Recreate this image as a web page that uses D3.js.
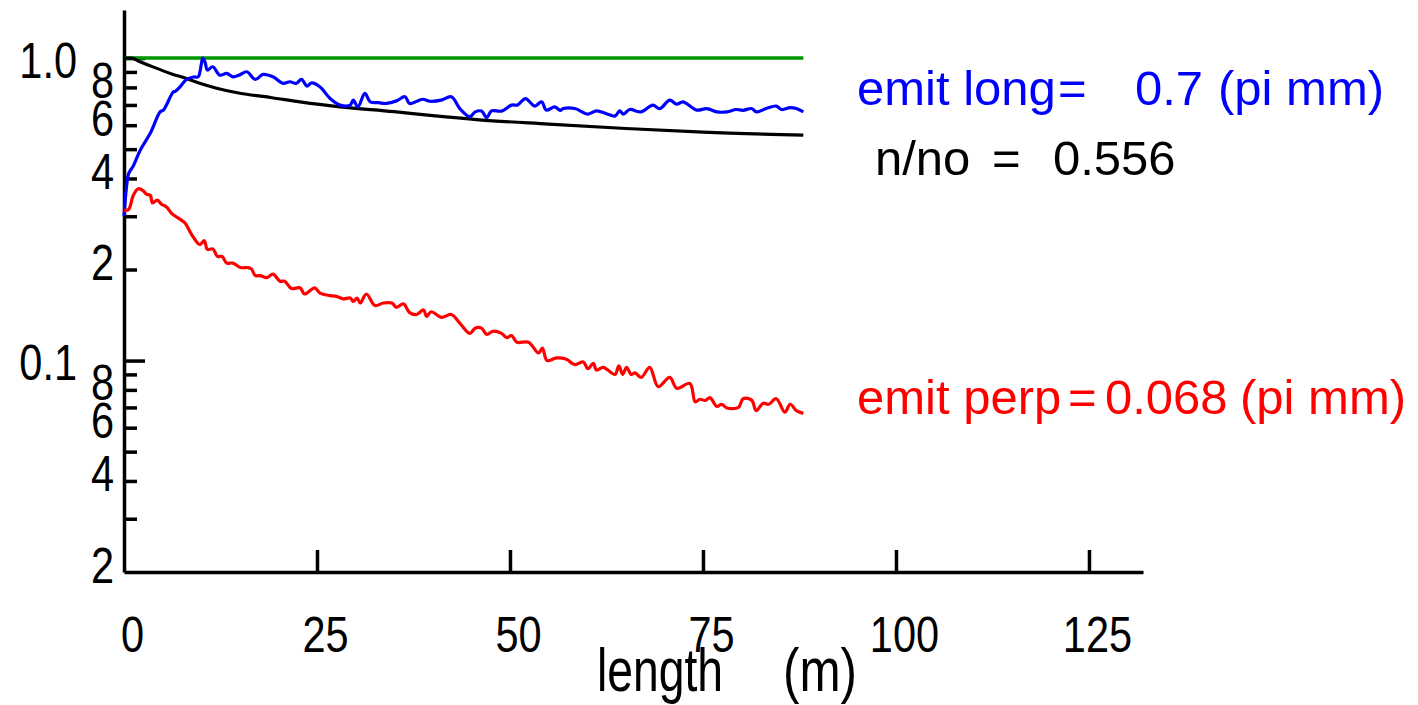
<!DOCTYPE html>
<html>
<head>
<meta charset="utf-8">
<script src="https://cdn.jsdelivr.net/npm/d3@7/dist/d3.min.js"></script>
<style>
  html, body { margin: 0; padding: 0; background: #fff; }
  svg { display: block; }
  text { font-family: "Liberation Sans", Arial, sans-serif; }
</style>
</head>
<body>
<svg id="chart" width="1418" height="705"></svg>
<script>
// ---------- data ----------
const xTickValues = [25, 50, 75, 100, 125];
const xLabelValues = [0, 25, 50, 75, 100, 125];
const yMinorTicks = [0.9, 0.8, 0.7, 0.6, 0.5, 0.4, 0.3, 0.2, 0.09, 0.08, 0.07, 0.06, 0.05, 0.04, 0.03];
const yMajorTicks = [1.0, 0.1];
const yMinorLabelValues = [0.8, 0.6, 0.4, 0.2, 0.08, 0.06, 0.04, 0.02];
const yMinorLabels = ["8", "6", "4", "2", "8", "6", "4", "2"];
const yMajorLabels = ["1.0", "0.1"];

const refX = [0, 88];
const refY = [1.0, 1.0];

const ratioX = [0, 1, 2, 4, 6, 8, 10, 12, 15, 19, 23, 28, 35, 40, 46, 55, 65, 75, 88];
const ratioY = [1.0, 1.0, 0.975, 0.93, 0.89, 0.857, 0.822, 0.795, 0.765, 0.741, 0.715, 0.69, 0.665, 0.645, 0.625, 0.605, 0.585, 0.569, 0.556];

const longX = [0, 0.3, 0.6, 1.2, 2.1, 3.4, 4.7, 5.1, 6.4, 6.6, 7.2, 8.1, 9.0, 9.6, 10.0, 10.2, 10.5, 10.8, 11.5, 12.4,
  13.3, 14.1, 15.0, 15.9, 17.0, 18.0, 19.3, 20.6, 21.5, 22.3, 23.0, 23.7, 24.3, 25.4, 26.7, 28.0, 29.3, 29.7, 30.3, 31.2,
  31.9, 33.0, 34.0, 35.3, 36.4, 37.0, 38.7, 39.6, 41.1, 42.4, 43.5, 44.8, 45.5, 46.3, 47.0, 47.6, 48.9, 50.2, 51.0, 52.0,
  53.2, 54.1, 54.7, 55.8, 56.5, 56.9, 58.4, 60.1, 61.2, 62.5, 63.6, 64.2, 64.7, 65.5, 67.0, 68.5, 69.4, 70.7, 71.6, 72.4,
  74.2, 75.5, 76.8, 78.1, 79.3, 80.2, 81.3, 81.9, 83.2, 84.5, 85.2, 86.3, 87.1, 88.0];
const longY = [0.30, 0.37, 0.415, 0.44, 0.496, 0.564, 0.665, 0.673, 0.774, 0.775, 0.80, 0.850, 0.866, 0.867, 0.95, 1.0, 0.97, 0.913, 0.936, 0.878,
  0.89, 0.867, 0.88, 0.901, 0.85, 0.883, 0.867, 0.825, 0.835, 0.825, 0.85, 0.808, 0.828, 0.803, 0.735, 0.699, 0.699, 0.726, 0.69, 0.764,
  0.717, 0.712, 0.708, 0.722, 0.745, 0.708, 0.731, 0.72, 0.726, 0.745, 0.681, 0.640, 0.664, 0.668, 0.636, 0.669, 0.668, 0.699, 0.70, 0.735,
  0.694, 0.717, 0.673, 0.690, 0.672, 0.681, 0.681, 0.653, 0.669, 0.655, 0.643, 0.669, 0.653, 0.676, 0.664, 0.699, 0.681, 0.726, 0.704, 0.717,
  0.673, 0.681, 0.664, 0.664, 0.676, 0.672, 0.681, 0.664, 0.681, 0.694, 0.676, 0.686, 0.681, 0.664];

const perpX = [0, 0.6, 1.2, 1.85, 2.5, 2.9, 3.4, 3.7, 4.3, 4.9, 5.5, 6.2, 7.3, 7.9, 8.8, 9.8, 10.4, 10.8, 11.5, 12.1,
  12.7, 13.3, 14.1, 15.1, 16.1, 16.5, 17.0, 17.6, 18.5, 19.3, 20.2, 20.8, 21.7, 22.8, 23.4, 24.7, 25.4, 26.7, 27.5, 28.4,
  29.3, 29.7, 30.2, 30.6, 31.4, 32.5, 33.6, 34.7, 35.3, 36.2, 37.0, 37.9, 38.8, 39.2, 39.8, 41.1, 42.4, 43.5, 44.8, 45.5,
  46.3, 47.0, 47.8, 48.9, 49.6, 50.2, 50.9, 52.4, 53.7, 54.2, 54.8, 56.0, 57.3, 58.4, 59.5, 60.1, 60.8, 61.2, 62.1, 63.6,
  64.1, 64.6, 65.1, 65.7, 66.2, 67.0, 68.1, 69.2, 70.7, 71.6, 73.3, 74.0, 74.6, 75.3, 75.9, 76.8, 77.4, 78.1, 79.6, 80.2,
  81.3, 81.9, 82.8, 83.5, 84.5, 85.6, 86.3, 87.1, 88.0];
const perpY = [0.314, 0.316, 0.352, 0.370, 0.364, 0.355, 0.352, 0.332, 0.339, 0.328, 0.322, 0.306, 0.293, 0.285, 0.26, 0.242, 0.249, 0.233, 0.234, 0.221,
  0.221, 0.21, 0.21, 0.203, 0.203, 0.201, 0.191, 0.191, 0.188, 0.193, 0.183, 0.183, 0.173, 0.174, 0.166, 0.174, 0.167, 0.164, 0.163, 0.160,
  0.161, 0.157, 0.161, 0.155, 0.166, 0.152, 0.155, 0.155, 0.150, 0.154, 0.144, 0.142, 0.147, 0.140, 0.145, 0.139, 0.142, 0.133, 0.123, 0.128,
  0.128, 0.122, 0.125, 0.123, 0.119, 0.121, 0.115, 0.115, 0.106, 0.110, 0.100, 0.102, 0.101, 0.097, 0.099, 0.094, 0.098, 0.093, 0.095, 0.090,
  0.096, 0.090, 0.095, 0.090, 0.091, 0.088, 0.095, 0.082, 0.088, 0.081, 0.084, 0.0731, 0.0745, 0.0738, 0.0754, 0.0705, 0.0717, 0.0697, 0.0700, 0.0748,
  0.0740, 0.0683, 0.0723, 0.0717, 0.0748, 0.0675, 0.0717, 0.0683, 0.0669];

// ---------- layout ----------
const svg = d3.select("#chart");
const x = d3.scaleLinear().domain([0, 132]).range([124, 1143]);
const y = d3.scaleLog().domain([0.02, 1.442]).range([572, 10]);

// y axis: minor ticks (inward)
svg.append("g").attr("transform", "translate(124,0)")
  .call(d3.axisRight(y).tickValues(yMinorTicks).tickSize(13).tickSizeOuter(0).tickFormat(""));
const yMajorAxis = svg.append("g").attr("transform", "translate(124,0)")
  .call(d3.axisRight(y).tickValues(yMajorTicks).tickSize(21).tickSizeOuter(0).tickFormat(""));
yMajorAxis.select(".domain").remove();

// y labels
const yLab1 = svg.append("g").attr("transform", "translate(124,0)")
  .call(d3.axisLeft(y).tickValues(yMinorLabelValues).tickSize(0).tickPadding(10)
    .tickFormat((d, i) => yMinorLabels[i]));
yLab1.select(".domain").remove();
yLab1.selectAll("text").attr("dy", "0.2em");
const yLab2 = svg.append("g").attr("transform", "translate(124,0)")
  .call(d3.axisLeft(y).tickValues(yMajorTicks).tickSize(0).tickPadding(47)
    .tickFormat((d, i) => yMajorLabels[i]));
yLab2.select(".domain").remove();
yLab2.selectAll("text").attr("dy", "0.38em");

// x axis: ticks upward
svg.append("g").attr("transform", "translate(0,572)")
  .call(d3.axisTop(x).tickValues(xTickValues).tickSize(22).tickSizeOuter(0).tickFormat(""));
const xLab = svg.append("g").attr("transform", "translate(0,572)")
  .call(d3.axisBottom(x).tickValues(xLabelValues).tickSize(0).tickPadding(44));
xLab.select(".domain").remove();
xLab.selectAll("text").attr("dx", 8);

svg.selectAll(".domain, .tick line").attr("stroke", "#000").attr("stroke-width", 3.5);
svg.selectAll("g").attr("font-family", null).attr("font-size", null);
svg.selectAll(".tick text").attr("fill", "#000").style("font-size", "50px")
  .each(function () {
    const w = this.getComputedTextLength();
    d3.select(this).attr("textLength", (w * 0.83).toFixed(1)).attr("lengthAdjust", "spacingAndGlyphs");
  });

// ---------- lines ----------
const lineFn = (xs, ys, curve) => d3.line()
  .x((d, i) => x(xs[i])).y((d, i) => y(ys[i])).curve(curve)(xs);

svg.append("path").attr("d", lineFn(refX, refY, d3.curveLinear))
  .attr("fill", "none").attr("stroke", "#009900").attr("stroke-width", 3.5);
svg.append("path").attr("d", lineFn(ratioX, ratioY, d3.curveMonotoneX))
  .attr("fill", "none").attr("stroke", "#000").attr("stroke-width", 3.2);
svg.append("path").attr("d", lineFn(longX, longY, d3.curveCatmullRom.alpha(0.5)))
  .attr("fill", "none").attr("stroke", "#0000ff").attr("stroke-width", 3.2).attr("stroke-linejoin", "round");
svg.append("path").attr("d", lineFn(perpX, perpY, d3.curveCatmullRom.alpha(0.5)))
  .attr("fill", "none").attr("stroke", "#ff0000").attr("stroke-width", 3.2).attr("stroke-linejoin", "round");

// ---------- annotations ----------
const ann = svg.append("g").style("font-size", "49px");
const t1 = ann.append("text").attr("y", 105).attr("fill", "#0000ff");
t1.append("tspan").attr("x", 857).text("emit long");
t1.append("tspan").attr("x", 1058).text("=");
t1.append("tspan").attr("x", 1135).text("0.7");
t1.append("tspan").attr("x", 1218).text("(pi mm)");
const t2 = ann.append("text").attr("y", 175).attr("fill", "#000");
t2.append("tspan").attr("x", 875).text("n/no");
t2.append("tspan").attr("x", 992).text("=");
t2.append("tspan").attr("x", 1053).text("0.556");
const t3 = ann.append("text").attr("y", 414).attr("fill", "#ff0000");
t3.append("tspan").attr("x", 857).text("emit perp");
t3.append("tspan").attr("x", 1068).text("=");
t3.append("tspan").attr("x", 1105).text("0.068");
t3.append("tspan").attr("x", 1240).text("(pi mm)");

// x axis label
const xl = svg.append("g").style("font-size", "62px");
xl.append("text").attr("x", 597).attr("y", 691).attr("textLength", 126)
  .attr("lengthAdjust", "spacingAndGlyphs").text("length");
xl.append("text").attr("x", 783).attr("y", 691).attr("textLength", 74)
  .attr("lengthAdjust", "spacingAndGlyphs").text("(m)");
</script>
</body>
</html>
